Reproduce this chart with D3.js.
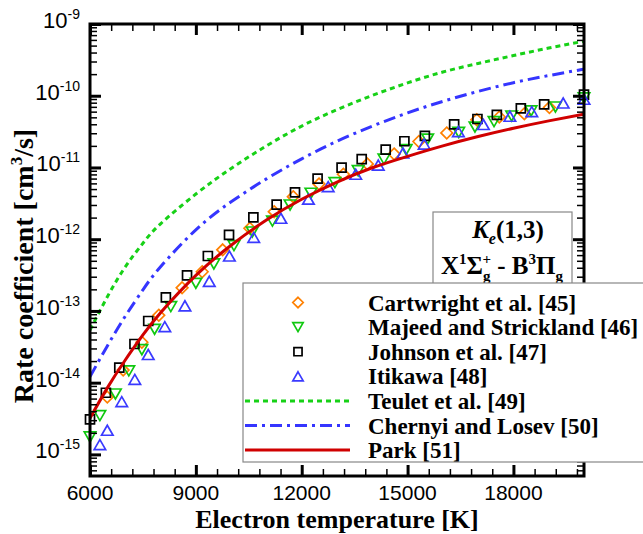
<!DOCTYPE html>
<html>
<head>
<meta charset="utf-8">
<script src="https://cdn.jsdelivr.net/npm/d3@7"></script>
<style>
  body { margin: 0; background: #fff; }
  svg { display: block; }
</style>
</head>
<body>
<div id="wrapper"></div>
<script>
// data (T in K, rate coefficient in cm^3/s)
const cartwrightT = [6490, 6940, 7470, 7950, 8610, 9180, 9760, 10530, 11220, 11760, 12490, 13180, 13860, 14620, 15320, 16110, 16960, 17600, 18310, 19020];
const cartwrightK = [6.3e-15, 1.5e-14, 3.66e-14, 8.7e-14, 2.1e-13, 3.52e-13, 7.1e-13, 1.42e-12, 2.42e-12, 3.92e-12, 5.89e-12, 8.04e-12, 1.12e-11, 1.54e-11, 2.3e-11, 3.03e-11, 4.63e-11, 5.06e-11, 5.61e-11, 6.85e-11];

const majeedT = [6000, 6280, 6720, 7100, 7470, 7830, 8290, 9000, 9510, 10080, 10600, 11170, 11670, 12260, 12940, 13600, 14330, 14960, 15570, 16450, 16910, 17450, 17950, 18500, 19190, 20000];
const majeedK = [1.75e-15, 3.48e-15, 6.95e-15, 1.46e-14, 2.88e-14, 5.55e-14, 1.15e-13, 2.43e-13, 4.52e-13, 8.13e-13, 1.26e-12, 1.79e-12, 3.0e-12, 4.37e-12, 6.14e-12, 9.02e-12, 1.31e-11, 1.77e-11, 2.49e-11, 3.08e-11, 3.66e-11, 4.35e-11, 5.22e-11, 6.14e-11, 6.97e-11, 9.31e-11];

const johnsonT = [6000, 6450, 6830, 7260, 7650, 8150, 8750, 9340, 9940, 10630, 11290, 11810, 12450, 13130, 13700, 14380, 14910, 15490, 16320, 16980, 17530, 18210, 18870, 20000];
const johnsonK = [3.08e-15, 7.24e-15, 1.62e-14, 3.46e-14, 7.24e-14, 1.55e-13, 3.14e-13, 5.83e-13, 1.15e-12, 2.01e-12, 3.03e-12, 4.51e-12, 6.98e-12, 9.93e-12, 1.31e-11, 1.77e-11, 2.32e-11, 2.75e-11, 4.0e-11, 4.74e-11, 5.4e-11, 6.68e-11, 7.6e-11, 1.035e-10];

const itikawaT = [6280, 6490, 6900, 7270, 7650, 8120, 8690, 9380, 9950, 10640, 11410, 12190, 12750, 13530, 14170, 14870, 15470, 16440, 17150, 17900, 18520, 19410, 20000];
const itikawaK = [1.37e-15, 2.17e-15, 5.43e-15, 1.11e-14, 2.47e-14, 6.03e-14, 1.18e-13, 2.59e-13, 5.83e-13, 1.06e-12, 1.96e-12, 3.61e-12, 5.4e-12, 8.04e-12, 1.08e-11, 1.59e-11, 2.12e-11, 3.16e-11, 3.97e-11, 5.18e-11, 6.0e-11, 7.92e-11, 8.93e-11];

const lineT = [6000, 6500, 7000, 7500, 8000, 9000, 10000, 11000, 12000, 13000, 14000, 15000, 16000, 17000, 18000, 19000, 20000];
const teuletK = [5.42e-14, 1.6e-13, 4.11e-13, 8.79e-13, 1.64e-12, 4.26e-12, 9.7e-12, 2.0e-11, 3.78e-11, 6.4e-11, 1.01e-10, 1.51e-10, 2.14e-10, 2.82e-10, 3.63e-10, 4.62e-10, 5.75e-10];
const chernyiK = [1.21e-14, 3.31e-14, 8.45e-14, 1.97e-13, 4.13e-13, 1.35e-12, 3.32e-12, 6.93e-12, 1.32e-11, 2.32e-11, 3.77e-11, 5.77e-11, 8.34e-11, 1.15e-10, 1.52e-10, 1.91e-10, 2.35e-10];
const parkK = [3.2e-15, 8.6e-15, 2.07e-14, 4.62e-14, 9.45e-14, 3.13e-13, 8.24e-13, 1.85e-12, 3.6e-12, 6.25e-12, 9.9e-12, 1.43e-11, 2.0e-11, 2.7e-11, 3.52e-11, 4.46e-11, 5.55e-11];

const xTicks = [6000, 9000, 12000, 15000, 18000];
const yDecades = [-15, -14, -13, -12, -11, -10, -9];
const legendNames = ["Cartwright et al. [45]", "Majeed and Strickland [46]", "Johnson et al. [47]", "Itikawa [48]",
                     "Teulet et al. [49]", "Chernyi and Losev [50]", "Park [51]"];

const W = 643, H = 534;
const plot = { left: 90, right: 584, top: 24, bottom: 476 };
const sansFont = "'Liberation Sans', Arial, sans-serif";
const serifFont = "'Liberation Serif', 'Times New Roman', serif";

const svg = d3.select("#wrapper").append("svg")
    .attr("width", W)
    .attr("height", H);

const xScale = d3.scaleLinear()
    .domain([6000, 20000])
    .range([plot.left, plot.right]);

const yScale = d3.scaleLog()
    .domain([5e-16, 1e-9])
    .range([plot.bottom, plot.top]);

// marker shapes
function markerPath(kind, r) {
    if (kind === "diamond") return `M0,${-r}L${r},0L0,${r}L${-r},0Z`;
    if (kind === "square") return `M${-r},${-r}H${r}V${r}H${-r}Z`;
    if (kind === "down") return `M${-r * 1.15},${-r}L${r * 1.15},${-r}L0,${r}Z`;
    return `M0,${-r}L${r * 1.15},${r}L${-r * 1.15},${r}Z`;
}

const symbolSeries = [
    { T: cartwrightT, K: cartwrightK, kind: "diamond", r: 5.8, color: "#ff8000" },
    { T: majeedT, K: majeedK, kind: "down", r: 5, color: "#10c810" },
    { T: johnsonT, K: johnsonK, kind: "square", r: 4.5, color: "#000000" },
    { T: itikawaT, K: itikawaK, kind: "up", r: 5, color: "#3a3aff" }
];

const lineSeries = [
    { K: teuletK, color: "#17d117", dash: "5,4" },
    { K: chernyiK, color: "#3535ff", dash: "12,5,3,5" },
    { K: parkK, color: "#d00000", dash: null }
];

const bounded = svg.append("g");

symbolSeries.forEach(s => {
    const pts = s.T.map((t, i) => [t, s.K[i]]);
    bounded.append("g").selectAll("path")
        .data(pts)
        .join("path")
        .attr("transform", d => `translate(${xScale(d[0])},${yScale(d[1])})`)
        .attr("d", markerPath(s.kind, s.r))
        .attr("fill", "none")
        .attr("stroke", s.color)
        .attr("stroke-width", 1.7);
});

const lineGenerator = d3.line()
    .x(d => xScale(d[0]))
    .y(d => yScale(d[1]))
    .curve(d3.curveNatural);

lineSeries.forEach(s => {
    bounded.append("path")
        .attr("fill", "none")
        .attr("stroke", s.color)
        .attr("stroke-width", 3)
        .attr("stroke-dasharray", s.dash)
        .attr("d", lineGenerator(lineT.map((t, i) => [t, s.K[i]])));
});

// axes, ticks pointing inward on all four sides
const xMinor = d3.range(6000, 20001, 600).filter(v => !xTicks.includes(v));
const yMajor = yDecades.map(p => Math.pow(10, p));
const yMinor = [];
for (let p = -16; p <= -10; p++) {
    for (let m = 2; m <= 9; m++) {
        const v = m * Math.pow(10, p);
        if (v > 5e-16 && v < 1e-9) yMinor.push(v);
    }
}

function drawTicks(axisFn, scale, values, size, width, tr) {
    svg.append("g")
        .attr("transform", tr)
        .call(axisFn(scale).tickValues(values).tickSize(size).tickFormat(""))
        .call(g => g.select(".domain").remove())
        .call(g => g.selectAll(".tick line").attr("stroke", "#000").attr("stroke-width", width));
}

drawTicks(d3.axisTop, xScale, xTicks, 11, 3, `translate(0,${plot.bottom})`);
drawTicks(d3.axisTop, xScale, xMinor, 7, 1.5, `translate(0,${plot.bottom})`);
drawTicks(d3.axisBottom, xScale, xTicks, 11, 3, `translate(0,${plot.top})`);
drawTicks(d3.axisBottom, xScale, xMinor, 7, 1.5, `translate(0,${plot.top})`);
drawTicks(d3.axisRight, yScale, yMajor, 11, 3, `translate(${plot.left},0)`);
drawTicks(d3.axisRight, yScale, yMinor, 7, 1.5, `translate(${plot.left},0)`);
drawTicks(d3.axisLeft, yScale, yMajor, 11, 3, `translate(${plot.right},0)`);
drawTicks(d3.axisLeft, yScale, yMinor, 7, 1.5, `translate(${plot.right},0)`);

svg.append("rect")
    .attr("x", plot.left)
    .attr("y", plot.top)
    .attr("width", plot.right - plot.left)
    .attr("height", plot.bottom - plot.top)
    .attr("fill", "none")
    .attr("stroke", "#000")
    .attr("stroke-width", 3);

// tick labels
svg.append("g").selectAll("text")
    .data(xTicks)
    .join("text")
    .attr("x", d => xScale(d))
    .attr("y", 500)
    .attr("text-anchor", "middle")
    .attr("font-family", sansFont)
    .attr("font-size", 21)
    .text(d => d);

const yLab = svg.append("g").selectAll("text")
    .data(yDecades)
    .join("text")
    .attr("x", 80)
    .attr("y", d => yScale(Math.pow(10, d)) + 4)
    .attr("text-anchor", "end")
    .attr("font-family", sansFont)
    .attr("font-size", 22);
yLab.append("tspan").text("10");
yLab.append("tspan").attr("font-size", 14).attr("dy", -9).text(d => "-" + Math.abs(d));

// axis titles
svg.append("text")
    .attr("x", (plot.left + plot.right) / 2)
    .attr("y", 528)
    .attr("text-anchor", "middle")
    .attr("font-family", serifFont)
    .attr("font-weight", "bold")
    .attr("font-size", 26)
    .text("Electron temperature [K]");

const yTitle = svg.append("text")
    .attr("transform", "translate(33,266) rotate(-90)")
    .attr("text-anchor", "middle")
    .attr("font-family", serifFont)
    .attr("font-weight", "bold")
    .attr("font-size", 28);
yTitle.append("tspan").text("Rate coefficient [cm");
yTitle.append("tspan").attr("font-size", 17).attr("dy", -11).text("3");
yTitle.append("tspan").attr("dy", 11).text("/s]");

// annotation box
svg.append("rect")
    .attr("x", 433).attr("y", 212)
    .attr("width", 139).attr("height", 80)
    .attr("fill", "#fff")
    .attr("stroke", "#888")
    .attr("stroke-width", 1.2);

const ann1 = svg.append("text")
    .attr("x", 508).attr("y", 238)
    .attr("text-anchor", "middle")
    .attr("font-family", serifFont)
    .attr("font-weight", "bold")
    .attr("font-size", 25);
ann1.append("tspan").attr("font-style", "italic").text("K");
ann1.append("tspan").attr("font-style", "italic").attr("font-size", 16).attr("dy", 6).text("e");
ann1.append("tspan").attr("dy", -6).text("(1,3)");

const ann2 = svg.append("text")
    .attr("x", 502).attr("y", 274)
    .attr("text-anchor", "middle")
    .attr("font-family", serifFont)
    .attr("font-weight", "bold")
    .attr("font-size", 25);
ann2.append("tspan").text("X");
ann2.append("tspan").attr("font-size", 15).attr("dy", -10).text("1");
ann2.append("tspan").attr("dy", 10).text("Σ");
ann2.append("tspan").attr("font-size", 15).attr("dy", 7).text("g");
ann2.append("tspan").attr("font-size", 15).attr("dx", -8).attr("dy", -17).text("+");
ann2.append("tspan").attr("dy", 10).text(" - B");
ann2.append("tspan").attr("font-size", 15).attr("dy", -10).text("3");
ann2.append("tspan").attr("dy", 10).text("Π");
ann2.append("tspan").attr("font-size", 15).attr("dy", 7).text("g");

// legend
const legend = svg.append("g");
legend.append("rect")
    .attr("x", 243).attr("y", 283)
    .attr("width", 420).attr("height", 179)
    .attr("fill", "#fff")
    .attr("stroke", "#888")
    .attr("stroke-width", 1.2);

const rowY = i => 302.5 + i * 24.6;

symbolSeries.forEach((s, i) => {
    legend.append("path")
        .attr("transform", `translate(298,${rowY(i)})`)
        .attr("d", markerPath(s.kind, s.r * 0.9))
        .attr("fill", "none")
        .attr("stroke", s.color)
        .attr("stroke-width", 1.7);
});

lineSeries.forEach((s, i) => {
    legend.append("line")
        .attr("x1", 245).attr("x2", 350)
        .attr("y1", rowY(i + 4)).attr("y2", rowY(i + 4))
        .attr("stroke", s.color)
        .attr("stroke-width", 3)
        .attr("stroke-dasharray", s.dash);
});

legend.selectAll("text.name")
    .data(legendNames)
    .join("text")
    .attr("class", "name")
    .attr("x", 368)
    .attr("y", (d, i) => rowY(i) + 8)
    .attr("font-family", serifFont)
    .attr("font-weight", "bold")
    .attr("font-size", 23)
    .text(d => d);
</script>
</body>
</html>
